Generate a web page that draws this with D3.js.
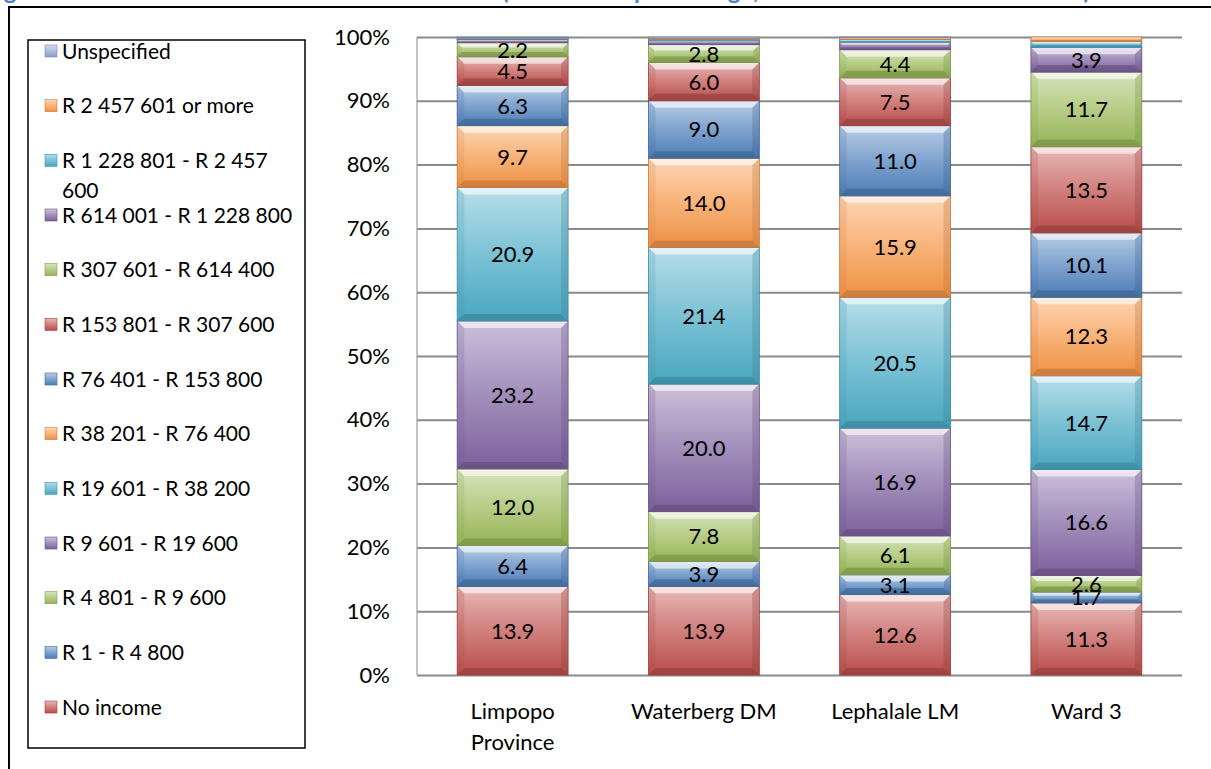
<!DOCTYPE html>
<html>
<head>
<meta charset="utf-8">
<script src="https://cdn.jsdelivr.net/npm/d3@7"></script>
<style>
  html, body { margin: 0; padding: 0; background: #fff; }
  svg { display: block; font-family: Lato, "Open Sans", sans-serif; }
</style>
</head>
<body>
<svg id="chart" width="1211" height="769"></svg>
<script>
// Household income bands, percentage of households per area
const categories = ["Limpopo Province", "Waterberg DM", "Lephalale LM", "Ward 3"];
const categoryLines = [["Limpopo", "Province"], ["Waterberg DM"], ["Lephalale LM"], ["Ward 3"]];

// Income bands, bottom of the stack first
const bands = [
  "No income",
  "R 1 - R 4 800",
  "R 4 801 - R 9 600",
  "R 9 601 - R 19 600",
  "R 19 601 - R 38 200",
  "R 38 201 - R 76 400",
  "R 76 401 - R 153 800",
  "R 153 801 - R 307 600",
  "R 307 601 - R 614 400",
  "R 614 001 - R 1 228 800",
  "R 1 228 801 - R 2 457 600",
  "R 2 457 601 or more",
  "Unspecified"
];

// One array per area, same order as the bands
const limpopo   = [13.9, 6.4, 12.0, 23.2, 20.9,  9.7,  6.3,  4.5,  2.2, 0.5, 0.2, 0.1, 0.1];
const waterberg = [13.9, 3.9,  7.8, 20.0, 21.4, 14.0,  9.0,  6.0,  2.8, 0.6, 0.2, 0.2, 0.2];
const lephalale = [12.6, 3.1,  6.1, 16.9, 20.5, 15.9, 11.0,  7.5,  4.4, 1.2, 0.4, 0.3, 0.1];
const ward3     = [11.3, 1.7,  2.6, 16.6, 14.7, 12.3, 10.1, 13.5, 11.7, 3.9, 0.9, 0.7, 0.0];

const yTicks = [0, 10, 20, 30, 40, 50, 60, 70, 80, 90, 100];

const bandColors = [
  "#C0504D", "#4F81BD", "#9BBB59", "#8064A2", "#4BACC6", "#F79646",
  "#4F81BD", "#C0504D", "#9BBB59", "#8064A2", "#4BACC6", "#F79646",
  "#8FA5CD"
];

const areaValues = [limpopo, waterberg, lephalale, ward3];
const rows = categories.map((c, i) => {
  const r = { category: c };
  bands.forEach((b, j) => { r[b] = areaValues[i][j]; });
  return r;
});

const FS = 22;
const LEGEND_FS = 21;
const svg = d3.select("#chart");
const defs = svg.append("defs");

// Vertical light-to-dark gradient for each band colour
bandColors.forEach((col, j) => {
  const base = d3.color(col);
  const g = defs.append("linearGradient")
    .attr("id", "grad" + j).attr("x1", 0).attr("y1", 0).attr("x2", 0).attr("y2", 1);
  g.append("stop").attr("offset", "0%").attr("stop-color", d3.interpolateRgb(col, "#fff")(0.6));
  g.append("stop").attr("offset", "45%").attr("stop-color", d3.interpolateRgb(col, "#fff")(0.3));
  g.append("stop").attr("offset", "100%").attr("stop-color", base.darker(0.1));
});

// Outer frame
svg.append("rect")
  .attr("x", 9).attr("y", 7).attr("width", 1400).attr("height", 900)
  .attr("fill", "none").attr("stroke", "#000").attr("stroke-width", 2);

// Figure caption (only its lower part falls inside the page)
const title = svg.append("text")
  .attr("y", -1)
  .attr("fill", "#4F81BD")
  .attr("font-weight", "bold")
  .attr("font-size", 24);
title.append("tspan").attr("x", -16).text("Figure 7: Annual household income");
title.append("tspan").attr("x", 502).attr("word-spacing", 18).text("(as a");
title.append("tspan").attr("x", 634).text("percentage,");
title.append("tspan").attr("x", 1090).attr("text-anchor", "end").attr("word-spacing", 40).text("Census 2011 data)");

// Scales
const x = d3.scaleBand().domain(categories).range([417, 1182])
  .paddingInner(0.42).paddingOuter(0.21);
const y = d3.scaleLinear().domain([0, 1]).range([675, 37]);

// Gridlines and y-axis
const yAxis = d3.axisLeft(y)
  .tickValues(yTicks.map(v => v / 100))
  .tickFormat(v => Math.round(v * 100) + "%")
  .tickSize(-(1182 - 417))
  .tickPadding(27);
const gy = svg.append("g").attr("transform", "translate(417,0)").call(yAxis);
gy.select(".domain").remove();
gy.selectAll(".tick line").attr("stroke", "#8a8a8a").attr("stroke-width", 2);
gy.selectAll(".tick text")
  .attr("font-size", FS).attr("fill", "#000")
  .attr("font-family", "Lato, sans-serif");
svg.append("line")
  .attr("x1", 417).attr("x2", 417).attr("y1", 37).attr("y2", 675)
  .attr("stroke", "#8a8a8a").attr("stroke-width", 1);

// Stacked 100% bars
const stack = d3.stack().keys(bands).offset(d3.stackOffsetExpand);
const layers = stack(rows);

const segs = [];
layers.forEach((layer, j) => {
  layer.forEach((d, i) => {
    segs.push({ band: j, cat: categories[i], y0: d[0], y1: d[1], value: areaValues[i][j] });
  });
});

const barG = svg.append("g");
segs.forEach(s => {
  const x0 = x(s.cat), w = x.bandwidth();
  const top = y(s.y1), bot = y(s.y0), h = bot - top;
  if (h <= 0) return;
  const g = barG.append("g");
  const base = d3.color(bandColors[s.band]);
  g.append("rect")
    .attr("x", x0).attr("y", top).attr("width", w).attr("height", h)
    .attr("fill", `url(#grad${s.band})`);
  // bevel edges
  const b = Math.min(7, h / 3);
  if (b > 0.6) {
    g.append("path")
      .attr("d", `M${x0},${top}L${x0 + w},${top}L${x0 + w - b},${top + b}L${x0 + b},${top + b}Z`)
      .attr("fill", "#fff").attr("opacity", 0.6);
    g.append("path")
      .attr("d", `M${x0},${bot}L${x0 + w},${bot}L${x0 + w - b},${bot - b}L${x0 + b},${bot - b}Z`)
      .attr("fill", base.darker(0.9)).attr("opacity", 0.55);
    g.append("path")
      .attr("d", `M${x0},${top}L${x0 + b},${top + b}L${x0 + b},${bot - b}L${x0},${bot}Z`)
      .attr("fill", base.darker(0.4)).attr("opacity", 0.2);
    g.append("path")
      .attr("d", `M${x0 + w},${top}L${x0 + w - b},${top + b}L${x0 + w - b},${bot - b}L${x0 + w},${bot}Z`)
      .attr("fill", base.darker(0.8)).attr("opacity", 0.3);
  }
  g.append("rect")
    .attr("x", x0).attr("y", top).attr("width", w).attr("height", h)
    .attr("fill", "none").attr("stroke", base.darker(0.6)).attr("stroke-width", 0.8);
});

// Value labels
svg.append("g").selectAll("text")
  .data(segs.filter(s => s.value >= 1.5))
  .join("text")
  .attr("x", s => x(s.cat) + x.bandwidth() / 2)
  .attr("y", s => y((s.y0 + s.y1) / 2))
  .attr("dy", "0.36em")
  .attr("text-anchor", "middle")
  .attr("font-size", FS)
  .attr("fill", "#000")
  .text(s => s.value.toFixed(1));

// Category labels
categories.forEach((c, i) => {
  const t = svg.append("text")
    .attr("x", x(c) + x.bandwidth() / 2)
    .attr("y", 719)
    .attr("text-anchor", "middle")
    .attr("font-size", FS)
    .attr("fill", "#000");
  categoryLines[i].forEach((ln, k) => {
    t.append("tspan").attr("x", x(c) + x.bandwidth() / 2).attr("dy", k === 0 ? 0 : 31).text(ln);
  });
});

// Legend
const legend = svg.append("g");
legend.append("rect")
  .attr("x", 28).attr("y", 40).attr("width", 277).attr("height", 708)
  .attr("fill", "#fff").attr("stroke", "#000").attr("stroke-width", 1.5);

const legendOrder = bands.map((b, j) => j).reverse();
legendOrder.forEach((j, k) => {
  const cy = 51 + k * 54.67;
  const base = d3.color(bandColors[j]);
  legend.append("rect")
    .attr("x", 45).attr("y", cy - 6).attr("width", 12).attr("height", 12)
    .attr("fill", `url(#grad${j})`).attr("stroke", base.darker(0.5)).attr("stroke-width", 0.6);
  const t = legend.append("text")
    .attr("x", 62).attr("y", cy).attr("dy", "0.36em")
    .attr("font-size", LEGEND_FS).attr("fill", "#000");
  // wrap long labels to the legend width
  const words = bands[j].split(" ");
  let line = [], tspan = t.append("tspan").attr("x", 62);
  words.forEach(wd => {
    line.push(wd);
    tspan.text(line.join(" "));
    if (tspan.node().getComputedTextLength() > 242 && line.length > 1) {
      line.pop();
      tspan.text(line.join(" "));
      line = [wd];
      tspan = t.append("tspan").attr("x", 62).attr("dy", 30).text(wd);
    }
  });
});
</script>
</body>
</html>
